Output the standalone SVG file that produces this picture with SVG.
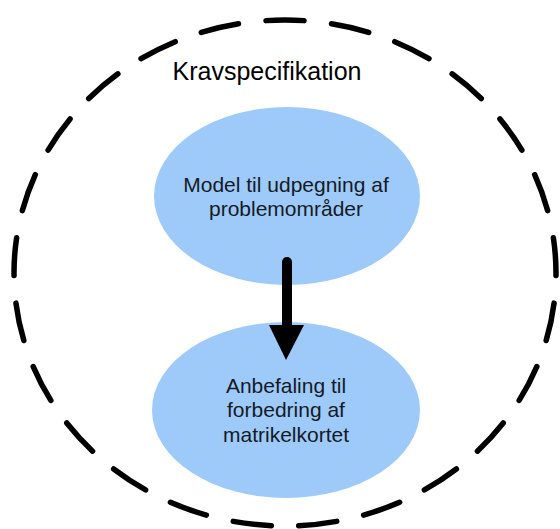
<svg xmlns="http://www.w3.org/2000/svg" width="560" height="529" viewBox="0 0 560 529">
  <style>
    .boundary { fill: none; stroke: #000; stroke-width: 5.5; stroke-linecap: round; stroke-dasharray: 58 42; stroke-dashoffset: 29; }
    .node-shape { fill: #9dcaf8; stroke: none; }
    .label { font-family: "Liberation Sans", Arial, sans-serif; font-size: 21px; fill: #151a26; text-anchor: middle; }
    .title { font-family: "Liberation Sans", Arial, sans-serif; font-size: 25px; fill: #000; text-anchor: middle; }
    .edge { stroke: #000; stroke-width: 10; stroke-linecap: round; fill: none; }
  </style>
  <rect width="560" height="529" fill="#fff"/>

  <!-- dashed boundary of the requirement specification -->
  <g id="kravspecifikation">
    <path class="boundary" pathLength="2500" d="M 285 20 A 271 253 0 0 1 285 526 A 271 253 0 0 1 285 20 Z"/>
    <text class="title" x="267" y="80">Kravspecifikation</text>
  </g>

  <g id="model">
    <ellipse class="node-shape" cx="287" cy="196" rx="133" ry="89"/>
    <text class="label" x="286" y="192">Model til udpegning af</text>
    <text class="label" x="286" y="216">problemområder</text>
  </g>

  <g id="anbefaling">
    <ellipse class="node-shape" cx="286" cy="410" rx="134" ry="88"/>
    <text class="label" x="286" y="393">Anbefaling til</text>
    <text class="label" x="286" y="417">forbedring af</text>
    <text class="label" x="286" y="442">matrikelkortet</text>
  </g>

  <g id="connectors">
    <line class="edge" x1="287" y1="262" x2="287" y2="328"/>
    <polygon points="269,325 304,325 286,360" fill="#000"/>
  </g>
</svg>
